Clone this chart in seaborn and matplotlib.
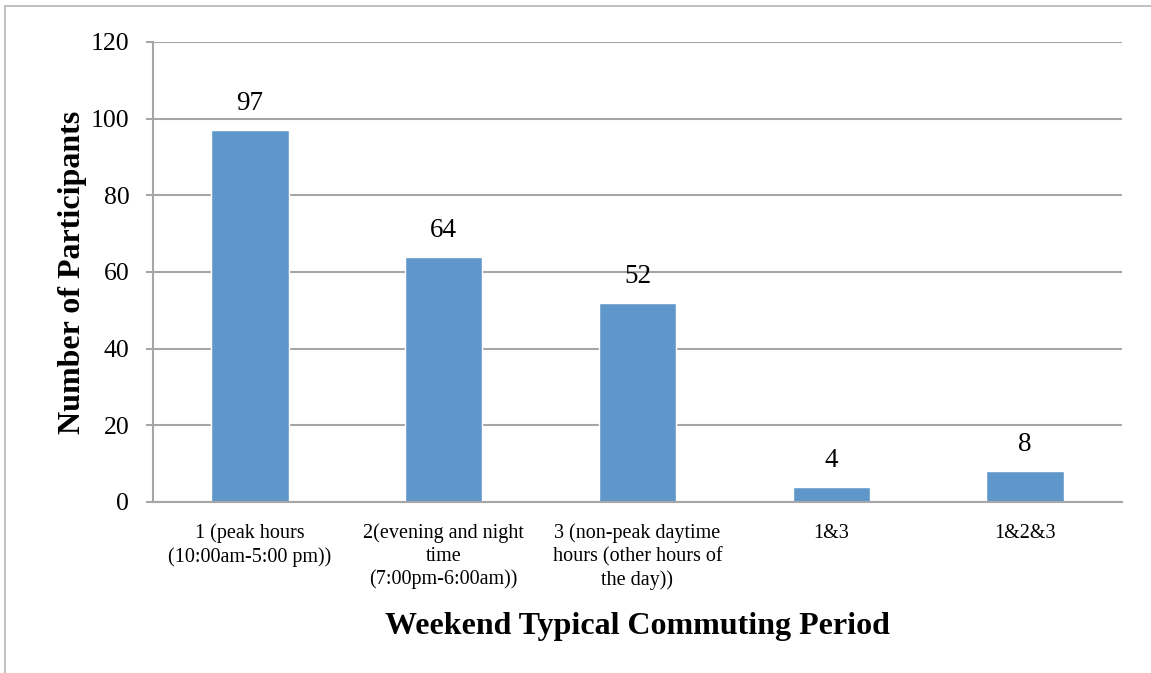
import matplotlib
matplotlib.use("Agg")
import matplotlib.pyplot as plt
import seaborn as sns
import pandas as pd
from matplotlib.lines import Line2D

# données
categories = [
    "1 (peak hours\n(10:00am-5:00 pm))",
    "2(evening and night\ntime\n(7:00pm-6:00am))",
    "3 (non-peak daytime\nhours (other hours of\nthe day))",
    "1&3",
    "1&2&3",
]
participants = [97, 64, 52, 4, 8]
y_ticks = [0, 20, 40, 60, 80, 100, 120]

df = pd.DataFrame({"period": categories, "count": participants})

sns.set_style("white")
plt.rcParams["font.family"] = ["Liberation Serif", "DejaVu Serif"]
plt.rcParams["text.color"] = "black"
plt.rcParams["axes.labelcolor"] = "black"

fig = plt.figure(figsize=(11.51, 6.73), dpi=100)
ax = fig.add_axes([0.1329, 0.2541, 0.8419, 0.6835])

sns.barplot(data=df, x="period", y="count", color="#6097CB", width=0.4,
            saturation=1, ax=ax)

ax.set_ylim(0, 120)
ax.set_yticks(y_ticks)
ax.yaxis.grid(True, color="#A6A6A6", linewidth=1.5)
ax.set_axisbelow(True)
for side in ["top", "right"]:
    ax.spines[side].set_visible(False)
for side in ["left", "bottom"]:
    ax.spines[side].set_color("#A6A6A6")
    ax.spines[side].set_linewidth(1.5)

ax.tick_params(axis="y", which="both", left=True, length=5, width=1.5,
               color="#A6A6A6", pad=12, labelsize=18.5, labelcolor="black")
ax.tick_params(axis="x", bottom=False, pad=12, labelsize=14.5, labelcolor="black")
for lbl in ax.get_xticklabels():
    lbl.set_linespacing(1.25)
    lbl.set_verticalalignment("top")

ax.bar_label(ax.containers[0], padding=10, fontsize=19.5, color="black")

ax.set_xlabel("Weekend Typical Commuting Period", fontsize=23,
              fontweight="bold", labelpad=16)
ax.set_ylabel("Number of Participants", fontsize=23, fontweight="bold",
              labelpad=3)

# cadre gris autour du graphique
fig.add_artist(Line2D([5 / 1151, 5 / 1151], [0, 1 - 6 / 673],
                      transform=fig.transFigure, color="#B5B5B5", linewidth=1.2))
fig.add_artist(Line2D([5 / 1151, 1], [1 - 6 / 673, 1 - 6 / 673],
                      transform=fig.transFigure, color="#B5B5B5", linewidth=1.2))

fig.savefig("out.png", dpi=100)
